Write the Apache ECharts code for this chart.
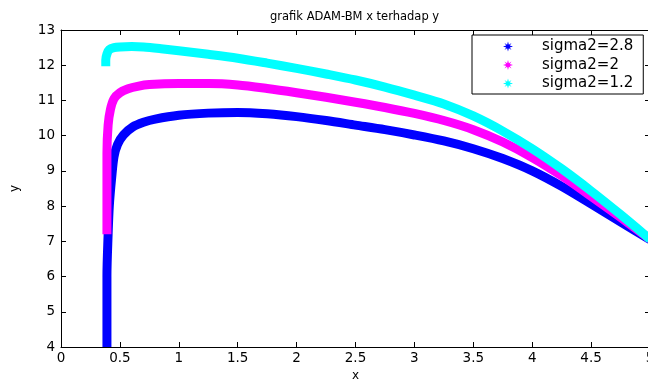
<!DOCTYPE html>
<html>
<head>
<meta charset="utf-8">
<script src="https://cdn.jsdelivr.net/npm/echarts@6.0.0/dist/echarts.min.js"></script>
<style>
  html, body { margin: 0; background: #fff; }
  #chart { width: 648px; height: 380px; }
</style>
</head>
<body>
<div id="chart"></div>
<script>
// values
const seriesNames = ["sigma2=2.8", "sigma2=2", "sigma2=1.2"];

const blueX = [0.39, 0.39, 0.40, 0.41, 0.43, 0.45, 0.48, 0.53, 0.61, 0.70, 0.80, 1.0, 1.25, 1.5, 1.75, 2.0, 2.25, 2.5, 2.75, 3.0, 3.25, 3.5, 3.75, 4.0, 4.25, 4.5, 4.75, 5.0];
const blueY = [4.0, 6.0, 7.2, 8.0, 8.8, 9.4, 9.75, 10.02, 10.25, 10.38, 10.47, 10.58, 10.64, 10.66, 10.62, 10.54, 10.43, 10.30, 10.17, 10.02, 9.85, 9.63, 9.35, 9.0, 8.56, 8.06, 7.55, 7.05];

const magentaX = [0.39, 0.39, 0.39, 0.40, 0.42, 0.45, 0.50, 0.57, 0.65, 0.75, 1.0, 1.25, 1.5, 1.75, 2.0, 2.25, 2.5, 2.75, 3.0, 3.25, 3.5, 3.75, 4.0, 4.25, 4.5, 4.75, 5.0];
const magentaY = [7.2, 8.5, 9.5, 10.3, 10.75, 11.05, 11.22, 11.33, 11.40, 11.45, 11.48, 11.48, 11.44, 11.34, 11.22, 11.09, 10.95, 10.80, 10.63, 10.43, 10.17, 9.82, 9.38, 8.86, 8.28, 7.68, 7.06];

const cyanX = [0.38, 0.38, 0.39, 0.41, 0.45, 0.5, 0.6, 0.7, 0.85, 1.0, 1.25, 1.5, 1.75, 2.0, 2.25, 2.5, 2.75, 3.0, 3.25, 3.5, 3.75, 4.0, 4.25, 4.5, 4.75, 5.0];
const cyanY = [11.97, 12.15, 12.32, 12.44, 12.50, 12.52, 12.53, 12.52, 12.47, 12.41, 12.31, 12.20, 12.06, 11.91, 11.75, 11.58, 11.38, 11.15, 10.90, 10.56, 10.13, 9.63, 9.06, 8.43, 7.76, 7.06];

const colors = ["#0000ff", "#ff00ff", "#00ffff"];
const xs = [blueX, magentaX, cyanX];
const ys = [blueY, magentaY, cyanY];

const starIcon = "path://M5,0L5.9,3.2L8.5,1.5L6.8,4.1L10,5L6.8,5.9L8.5,8.5L5.9,6.8L5,10L4.1,6.8L1.5,8.5L3.2,5.9L0,5L3.2,4.1L1.5,1.5L4.1,3.2Z";
const font = "DejaVu Sans";

const chart = echarts.init(document.getElementById("chart"));

const axisCommon = {
  axisLine: { show: true, onZero: false, lineStyle: { color: "#000", width: 1 } },
  axisTick: { show: true, inside: true, length: 5, lineStyle: { color: "#000" } },
  splitLine: { show: false },
};

chart.setOption({
  animation: false,
  backgroundColor: "#fff",
  title: {
    text: "grafik ADAM-BM x terhadap y",
    left: 270,
    top: 11,
    padding: 0,
    textStyle: { fontFamily: font, fontSize: 11.5, fontWeight: "normal", color: "#000" },
  },
  legend: {
    orient: "vertical",
    left: 472,
    top: 35,
    padding: [4, 10, 3, 31],
    itemWidth: 10,
    itemHeight: 10,
    itemGap: 3.5,
    backgroundColor: "#fff",
    borderColor: "#000",
    borderWidth: 1,
    borderRadius: 0,
    textStyle: { fontFamily: font, fontSize: 15, lineHeight: 14, color: "#000", padding: [0, 0, 0, 24] },
    data: seriesNames.map((n) => ({ name: n, icon: starIcon })),
  },
  grid: {
    left: 61,
    top: 30,
    width: 589,
    height: 317,
    containLabel: false,
    outerBoundsMode: "none",
  },
  xAxis: [
    {
      ...axisCommon,
      type: "value",
      min: 0,
      max: 5,
      interval: 0.5,
      name: "x",
      nameLocation: "middle",
      nameGap: 17,
      nameTextStyle: { fontFamily: font, fontSize: 12, color: "#000" },
      axisLabel: { margin: 4, fontFamily: font, fontSize: 13.5, color: "#000" },
    },
    {
      ...axisCommon,
      type: "value",
      position: "top",
      min: 0,
      max: 5,
      interval: 0.5,
      axisLabel: { show: false },
    },
  ],
  yAxis: [
    {
      ...axisCommon,
      type: "value",
      min: 4,
      max: 13,
      interval: 1,
      name: "y",
      nameLocation: "middle",
      nameGap: 40,
      nameTextStyle: { fontFamily: font, fontSize: 12, color: "#000" },
      axisLabel: { margin: 6, fontFamily: font, fontSize: 13.5, color: "#000" },
    },
    {
      ...axisCommon,
      type: "value",
      position: "right",
      min: 4,
      max: 13,
      interval: 1,
      axisLabel: { show: false },
    },
  ],
  series: seriesNames.map((name, i) => ({
    name,
    type: "line",
    xAxisIndex: 0,
    yAxisIndex: 0,
    data: xs[i].map((x, j) => [x, ys[i][j]]),
    symbol: "none",
    smooth: 0.3,
    color: colors[i],
    lineStyle: { color: colors[i], width: 9, cap: "butt", join: "round" },
    z: 2 + i,
  })),
});
</script>
</body>
</html>
